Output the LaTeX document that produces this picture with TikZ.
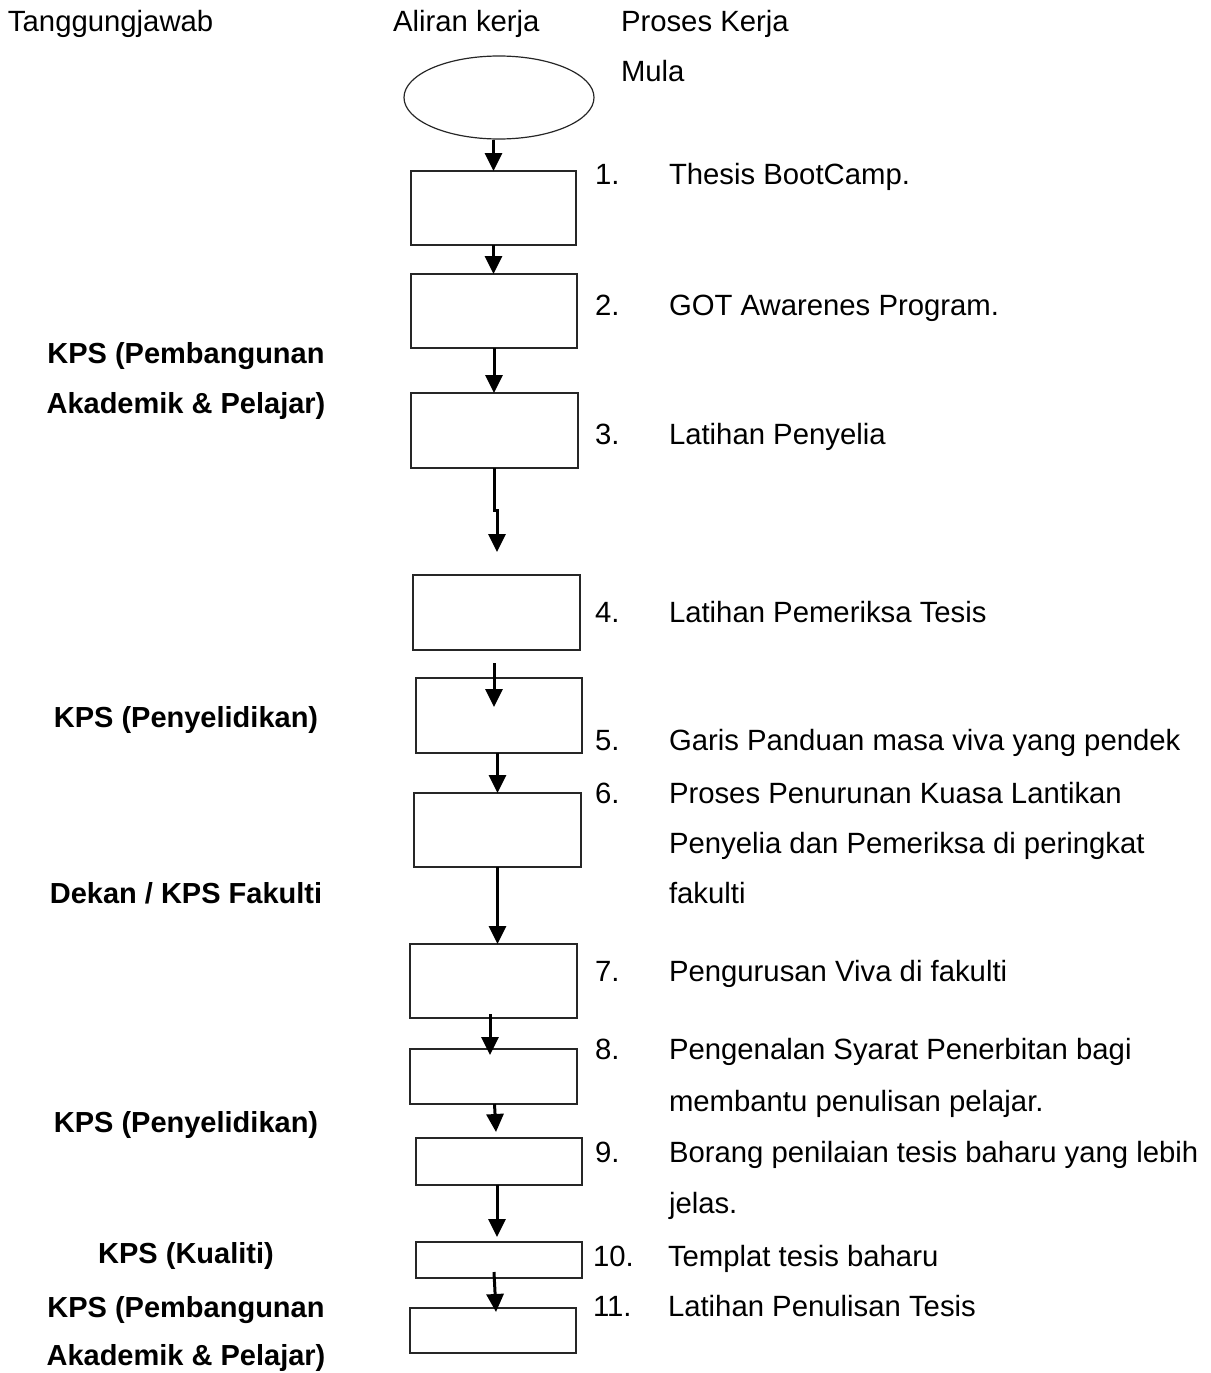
\documentclass[tikz,border=0pt]{standalone}
\usepackage{fontspec}
\setmainfont{Liberation Sans}
\usetikzlibrary{arrows.meta,shapes.geometric}
\begin{document}
\begin{tikzpicture}[x=1pt,y=-1pt,
 txt/.style={inner sep=0,outer sep=0,anchor=base west,font=\fontsize{29.3}{50}\selectfont},
 who/.style={inner sep=0,outer sep=0,anchor=base,font=\fontsize{29}{50}\selectfont\bfseries},
 box/.style={draw=black!85,line width=1.3pt,inner sep=0,outer sep=0},
 arr/.style={line width=3pt,-{Triangle[length=18pt,width=17pt]}}]
\useasboundingbox (0,0) rectangle (1210,1373);
% headers
\node[txt] (h1) at (8,31) {Tanggungjawab};
\node[txt] (h2) at (393,31) {Aliran kerja};
\node[txt] (h3) at (621,31) {Proses Kerja};
\node[txt] (mula) at (621,81) {Mula};
% flow shapes
\node[draw=black!85,line width=1.2pt,ellipse,inner sep=0,minimum width=190pt,minimum height=83pt] (st) at (499,97.5) {};
\node[box,minimum width=165pt,minimum height=74pt] (b1) at (493.5,208) {};
\node[box,minimum width=166pt,minimum height=74pt] (b2) at (494,311) {};
\node[box,minimum width=167pt,minimum height=75pt] (b3) at (494.5,430.5) {};
\node[box,minimum width=167pt,minimum height=75pt] (b4) at (496.5,612.5) {};
\node[box,minimum width=166pt,minimum height=75pt] (b5) at (499,715.5) {};
\node[box,minimum width=167pt,minimum height=74pt] (b6) at (497.5,830) {};
\node[box,minimum width=167pt,minimum height=74pt] (b7) at (493.5,981) {};
\node[box,minimum width=167pt,minimum height=55pt] (b8) at (493.5,1076.5) {};
\node[box,minimum width=166pt,minimum height=47pt] (b9) at (499,1161.5) {};
\node[box,minimum width=166pt,minimum height=36pt] (b10) at (499,1260) {};
\node[box,minimum width=166pt,minimum height=45pt] (b11) at (493,1330.5) {};
% arrows
\draw[arr] (b1.north |- st.south) -- (b1.north);
\draw[arr] (b1.south) -- (b1.south |- b2.north);
\draw[arr] (b2.south) -- (b2.south |- b3.north);
\coordinate (t4) at (497,552);
\draw[arr] (b3.south) -- ++(0,42) -| (t4);
\draw[arr] ([xshift=-2.5pt,yshift=-13pt]b4.south) -- ([xshift=-5pt,yshift=-29pt]b5.north);
\draw[arr] (b5.south -| b6.north) -- (b6.north);
\draw[arr] (b6.south) -- (b6.south |- b7.north);
\draw[arr] ([xshift=-3.5pt,yshift=4pt]b7.south) -- ([xshift=-3.5pt,yshift=-6pt]b8.north);
\draw[arr] ([xshift=1pt]b8.south) -- ([xshift=-3pt,yshift=6pt]b9.north);
\draw[arr] ([xshift=-2pt]b9.south) -- ([xshift=-2pt,yshift=5pt]b10.north);
\draw[arr] ([xshift=-5pt,yshift=6pt]b10.south) -- ([xshift=3pt,yshift=-4pt]b11.north);
% process items
\node[txt] (n1) at (595,184) {1.};  \node[txt] (p1) at (669,184) {Thesis BootCamp.};
\node[txt] (n2) at (595,315) {2.};  \node[txt] (p2) at (669,315) {GOT Awarenes Program.};
\node[txt] (n3) at (595,444) {3.};  \node[txt] (p3) at (669,444) {Latihan Penyelia};
\node[txt] (n4) at (595,622) {4.};  \node[txt] (p4) at (669,622) {Latihan Pemeriksa Tesis};
\node[txt] (n5) at (595,750) {5.};  \node[txt] (p5) at (669,750) {Garis Panduan masa viva yang pendek};
\node[txt] (n6) at (595,803) {6.};  \node[txt] (p6a) at (669,803) {Proses Penurunan Kuasa Lantikan};
\node[txt] (p6b) at (669,853) {Penyelia dan Pemeriksa di peringkat};
\node[txt] (p6c) at (669,903) {fakulti};
\node[txt] (n7) at (595,981) {7.};  \node[txt] (p7) at (669,981) {Pengurusan Viva di fakulti};
\node[txt] (n8) at (595,1059) {8.}; \node[txt] (p8a) at (669,1059) {Pengenalan Syarat Penerbitan bagi};
\node[txt] (p8b) at (669,1111) {membantu penulisan pelajar.};
\node[txt] (n9) at (595,1162) {9.}; \node[txt] (p9a) at (669,1162) {Borang penilaian tesis baharu yang lebih};
\node[txt] (p9b) at (669,1213) {jelas.};
\node[txt] (n10) at (593,1266) {10.}; \node[txt] (p10) at (668,1266) {Templat tesis baharu};
\node[txt] (n11) at (593,1316) {11.}; \node[txt] (p11) at (668,1316) {Latihan Penulisan Tesis};
% responsibilities
\node[who] (r1a) at (186,363) {KPS (Pembangunan};
\node[who] (r1b) at (186,413) {Akademik \& Pelajar)};
\node[who] (r2) at (186,727) {KPS (Penyelidikan)};
\node[who] (r3) at (186,903) {Dekan / KPS Fakulti};
\node[who] (r4) at (186,1132) {KPS (Penyelidikan)};
\node[who] (r5) at (186,1263) {KPS (Kualiti)};
\node[who] (r6a) at (186,1317) {KPS (Pembangunan};
\node[who] (r6b) at (186,1365) {Akademik \& Pelajar)};
\end{tikzpicture}
\end{document}
